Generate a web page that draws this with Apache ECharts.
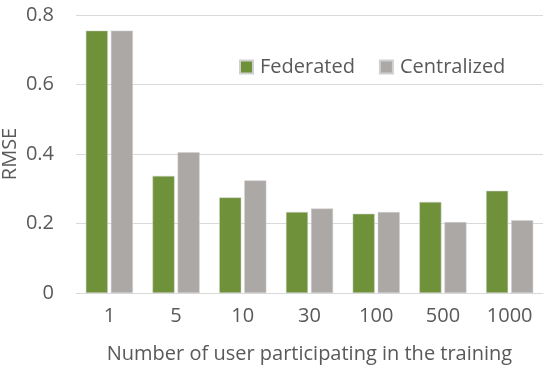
<!DOCTYPE html>
<html><head><meta charset="utf-8">
<script src="https://cdn.jsdelivr.net/npm/echarts@6/dist/echarts.min.js"></script>
<style>html,body{margin:0;padding:0;background:#fff}#c{width:552px;height:380px}</style>
</head><body><div id="c"></div>
<script>
const categories = ['1','5','10','30','100','500','1000'];
const federated = [0.755, 0.337, 0.275, 0.233, 0.228, 0.262, 0.294];
const centralized = [0.755, 0.405, 0.324, 0.243, 0.233, 0.204, 0.209];
const yTicks = [0, 0.2, 0.4, 0.6, 0.8];
const font = 'Open Sans';
const txt = '#595959';
const chart = echarts.init(document.getElementById('c'));
chart.setOption({
  animation: false,
  legend: {
    top: 52, left: 234, itemWidth: 13, itemHeight: 13, itemGap: 24,
    icon: 'rect',
    textStyle: {fontFamily: font, fontSize: 20, color: txt, padding: [0,0,0,2]},
    data: ['Federated','Centralized']
  },
  grid: {left: 76, right: 9, top: 15, bottom: 87, containLabel: false, outerBoundsMode: 'none'},
  xAxis: {
    type: 'category', data: categories,
    axisLine: {lineStyle: {color: '#d9d9d9'}}, axisTick: {show: false},
    axisLabel: {fontFamily: font, fontSize: 20, color: txt, margin: 13},
    name: 'Number of user participating in the training', nameLocation: 'middle', nameGap: 51,
    nameMoveOverlap: false,
    nameTextStyle: {fontFamily: font, fontSize: 20, color: txt}
  },
  yAxis: {
    type: 'value', min: 0, max: 0.8, interval: 0.2,
    axisLine: {show: false}, axisTick: {show: false},
    splitLine: {lineStyle: {color: '#d9d9d9'}},
    axisLabel: {fontFamily: font, fontSize: 20, color: txt, margin: 22,
      formatter: v => yTicks.includes(+v.toFixed(1)) ? (v === 0 ? '0' : String(+v.toFixed(1))) : ''},
    name: 'RMSE', nameLocation: 'middle', nameGap: 56, nameMoveOverlap: false,
    nameTextStyle: {fontFamily: font, fontSize: 20, color: txt}
  },
  series: [
    {name: 'Federated', type: 'bar', data: federated, barWidth: 22, barGap: '14%',
     itemStyle: {color: '#6f9139', borderColor: '#d0d0d0', borderWidth: 0.5}},
    {name: 'Centralized', type: 'bar', data: centralized, barWidth: 22,
     itemStyle: {color: '#aca8a6', borderColor: '#d0d0d0', borderWidth: 0.5}}
  ]
});
</script></body></html>
